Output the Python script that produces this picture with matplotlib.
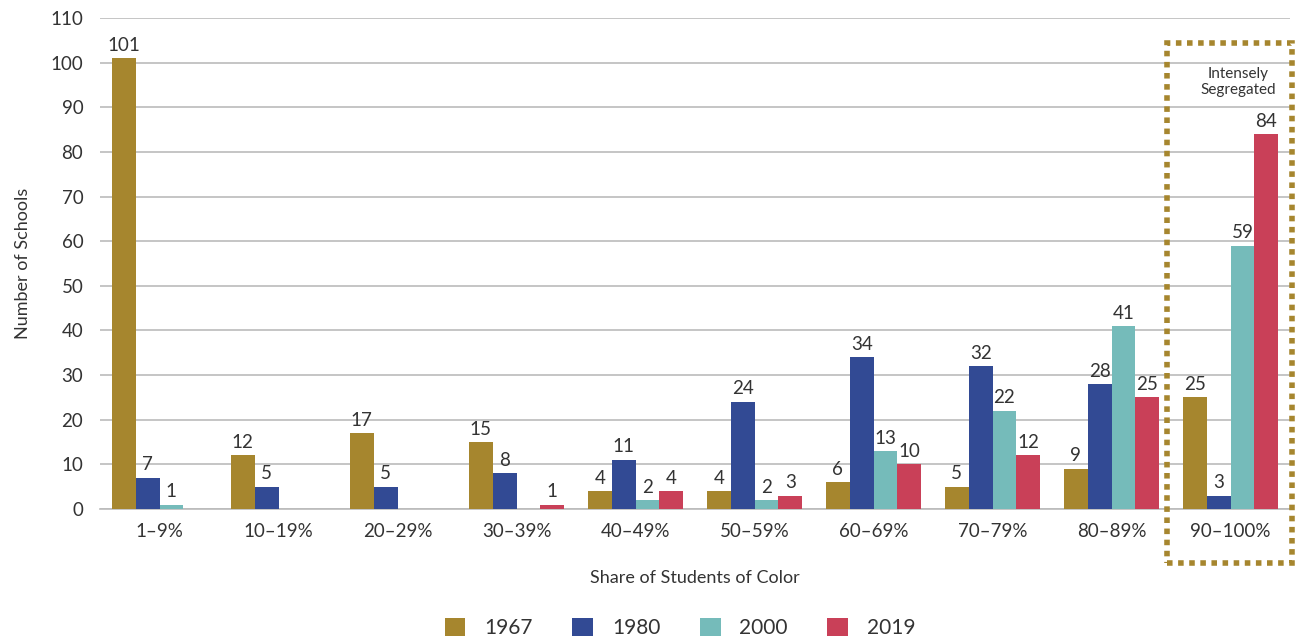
import numpy as np
import matplotlib
matplotlib.use('Agg')
import matplotlib.pyplot as plt
from matplotlib.patches import Rectangle

plt.rcParams['font.family'] = ['Lato', 'DejaVu Sans']

categories = ['1–9%', '10–19%', '20–29%', '30–39%', '40–49%',
              '50–59%', '60–69%', '70–79%', '80–89%', '90–100%']
years = ['1967', '1980', '2000', '2019']
v1967 = [101, 12, 17, 15, 4, 4, 6, 5, 9, 25]
v1980 = [7, 5, 5, 8, 11, 24, 34, 32, 28, 3]
v2000 = [1, 0, 0, 0, 2, 2, 13, 22, 41, 59]
v2019 = [0, 0, 0, 1, 4, 3, 10, 12, 25, 84]
colors = ['#A6862E', '#324A94', '#75BBBA', '#C94058']

fig = plt.figure(figsize=(12.98, 6.4), dpi=100)
ax = fig.add_axes([100 / 1298, 1 - 509 / 640, 1190 / 1298, 491 / 640])

x = np.arange(len(categories))
w = 0.2
for i, (vals, c, yr) in enumerate(zip([v1967, v1980, v2000, v2019], colors, years)):
    pos = x + (i - 1.5) * w
    ax.bar(pos, vals, width=w, color=c, label=yr, zorder=3)
    for p, v in zip(pos, vals):
        if v > 0:
            ax.text(p, v + 1, str(v), ha='center', va='bottom', fontsize=13.5, color='#333333')

ax.set_xlim(-0.5, len(categories) - 0.5)
ax.set_ylim(0, 110)
ax.set_yticks(range(0, 111, 10))
ax.set_xticks(x)
ax.set_xticklabels(categories)
ax.tick_params(axis='both', length=0, labelsize=13.5, colors='#333333')
ax.tick_params(axis='x', pad=10)
ax.tick_params(axis='y', pad=12)
ax.grid(axis='y', color='#BBBBBB', linewidth=1.2, zorder=0)
for s in ['left', 'right', 'top']:
    ax.spines[s].set_visible(False)
ax.spines['bottom'].set_color('#BBBBBB')
ax.spines['bottom'].set_linewidth(1.2)

ax.set_ylabel('Number of Schools', fontsize=13, color='#333333', labelpad=14)
fig.text(0.5 * (100 + 1290) / 1298, 1 - 578 / 640, 'Share of Students of Color',
         ha='center', va='center', fontsize=13, color='#333333')

# dotted box around intensely segregated group
box = Rectangle((1167 / 1298, 1 - 563 / 640), (1292 - 1167) / 1298, (563 - 43) / 640,
                transform=fig.transFigure, fill=False, edgecolor='#A6862E',
                linestyle=(0, (1, 1)), linewidth=4, zorder=5)
fig.patches.append(box)
fig.text(1238 / 1298, 1 - 82 / 640, 'Intensely\nSegregated', ha='center', va='center',
         fontsize=11, color='#333333', linespacing=1.1)

fig.legend(loc='center', bbox_to_anchor=(680 / 1298, 1 - 628 / 640), ncol=4, frameon=False,
           fontsize=15, handlelength=1.0, handleheight=1.0, columnspacing=1.9,
           handletextpad=0.9, labelcolor='#333333')

fig.savefig('out.png', dpi=100)
